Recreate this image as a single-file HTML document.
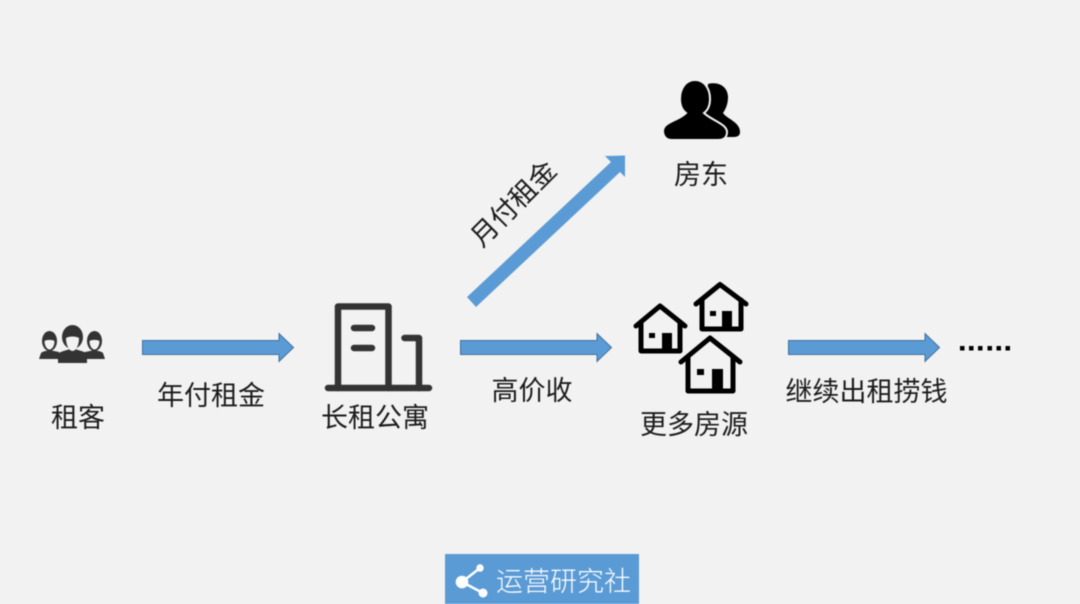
<!DOCTYPE html>
<html lang="zh">
<head>
<meta charset="utf-8">
<style>
html,body{margin:0;padding:0;background:#f2f2f2;width:1080px;height:604px;overflow:hidden}
svg{display:block;filter:blur(0.4px)}
text{font-family:"Liberation Sans","Noto Sans CJK SC",sans-serif;font-size:27px;fill:#1c1c1c;text-anchor:middle}
</style>
</head>
<body>
<svg width="1080" height="604" viewBox="0 0 1080 604" xmlns="http://www.w3.org/2000/svg">
<rect width="1080" height="604" fill="#f2f2f2"/>

<!-- Arrows -->
<g fill="#5b9bd5" stroke="#41719c" stroke-width="1">
<polygon points="142.500,340.500 279,340.500 279,333.500 293.500,347.500 279,361.500 279,354.500 142.500,354.500"/>
<polygon points="460.500,340.500 597,340.500 597,333.500 611.500,347.500 597,361.500 597,354.500 460.500,354.500"/>
<polygon points="788.500,340.500 925,340.500 925,333.500 939.500,347.500 925,361.500 925,354.500 788.500,354.500"/>
</g>
<polygon fill="#5b9bd5" points="467,297 611,162 605,156 625,155.500 625,177 620,172 476,307"/>

<!-- Tenants -->
<g fill="#333">
<ellipse cx="49.500" cy="341" rx="7.500" ry="10"/>
<ellipse cx="94.500" cy="341" rx="7.500" ry="10"/>
<path d="M39 359 L41 353 C43 351 47 351 49 350 L59 352 L59 359 Z"/>
<path d="M105 359 L103 353 C101 351 97 351 95 350 L85 352 L85 359 Z"/>
<path d="M58 363 L58 354 C60 351 66 351 72.500 348 C79 351 85 351 87 354 L87 363 Z"/>
<ellipse cx="72.500" cy="337" rx="10.500" ry="12"/>
</g>
<g fill="#f2f2f2">
<path d="M66 338 C69 336 76 336 79 338 C79 345 76 351 72.500 351 C69 351 66 345 66 338 Z"/>
<path d="M44.500 341 C47 339.500 52 339.500 54.500 341 C54.500 346 52 349.500 49.500 349.500 C47 349.500 44.500 346 44.500 341 Z"/>
<path d="M89.500 341 C92 339.500 97 339.500 99.500 341 C99.500 346 97 349.500 94.500 349.500 C92 349.500 89.500 346 89.500 341 Z"/>
</g>

<!-- Building -->
<g fill="none" stroke="#333" stroke-width="6.500" stroke-linecap="round" stroke-linejoin="round">
<path d="M338 388 V306.500 H388.500 V388"/>
<path d="M328 388 H429"/>
<path d="M354 328 H372"/>
<path d="M354 348 H372"/>
<path d="M404.500 338 H419 V388"/>
</g>

<!-- Landlords -->
<path fill="#000" d="M708 84 C720 81 728 88 728 97 C728 105 725 110 723 113 C727 119 740 122 740 132 C740 136 737 137 733 137 L725 137 L705 115 Z"/>
<g fill="#000" stroke="#f2f2f2" stroke-width="2">
<path d="M695 80 C704 80 710 88 710 99 C710 105 708 110 704 113 C711 120 727 124 727 132 C727 137 724 140 718 140 L672 140 C666 140 663 136 663 131 C663 122 678 121 686 113 C682 110 680 105 680 99 C680 88 686 80 695 80 Z"/>
</g>

<!-- Houses -->
<g fill="none" stroke="#000" stroke-width="5" stroke-linejoin="round" stroke-linecap="round">
<path d="M636 326 L660 306 L685 326"/>
<path d="M641 322 V351 H680 V322"/>
<path d="M696 304 L720 284.500 L746 304"/>
<path d="M702 300 V329 H741 V300"/>
<path d="M681 362 L710 338 L740 362"/>
<path d="M688 357 V391 H733 V357"/>
</g>
<g fill="#000">
<rect x="662" y="333" width="10" height="20"/>
<rect x="649" y="333" width="6" height="5"/>
<rect x="722" y="311" width="10" height="20"/>
<rect x="710" y="311" width="6" height="5"/>
<rect x="712" y="369" width="11" height="24"/>
<rect x="697" y="369" width="7" height="6"/>
</g>

<!-- Dots -->
<g fill="#000">
<rect x="960" y="346" width="4.500" height="4.500"/>
<rect x="969" y="346" width="4.500" height="4.500"/>
<rect x="978" y="346" width="4.500" height="4.500"/>
<rect x="987.500" y="346" width="4.500" height="4.500"/>
<rect x="996.500" y="346" width="4.500" height="4.500"/>
<rect x="1005.500" y="346" width="4.500" height="4.500"/>
</g>

<!-- Labels -->
<text x="78" y="427">租客</text>
<text x="211" y="405">年付租金</text>
<text x="375" y="427">长租公寓</text>
<text x="532" y="400">高价收</text>
<text x="694" y="434">更多房源</text>
<text x="866.500" y="401">继续出租捞钱</text>
<text x="701" y="184">房东</text>
<text transform="translate(513 203) rotate(-45)" x="0" y="10">月付租金</text>

<!-- Logo -->
<rect x="445" y="554" width="194" height="50" fill="#5b9bd5"/>
<g fill="#fff">
<path d="M480 568 L462 582 L483 593" fill="none" stroke="#fff" stroke-width="2.500"/>
<circle cx="480" cy="568" r="3.700"/>
<circle cx="462" cy="582" r="6.300"/>
<circle cx="483" cy="593" r="4.500"/>
</g>
<text x="563.500" y="591" style="fill:#fff;font-size:27px;font-weight:300">运营研究社</text>
</svg>
</body>
</html>
